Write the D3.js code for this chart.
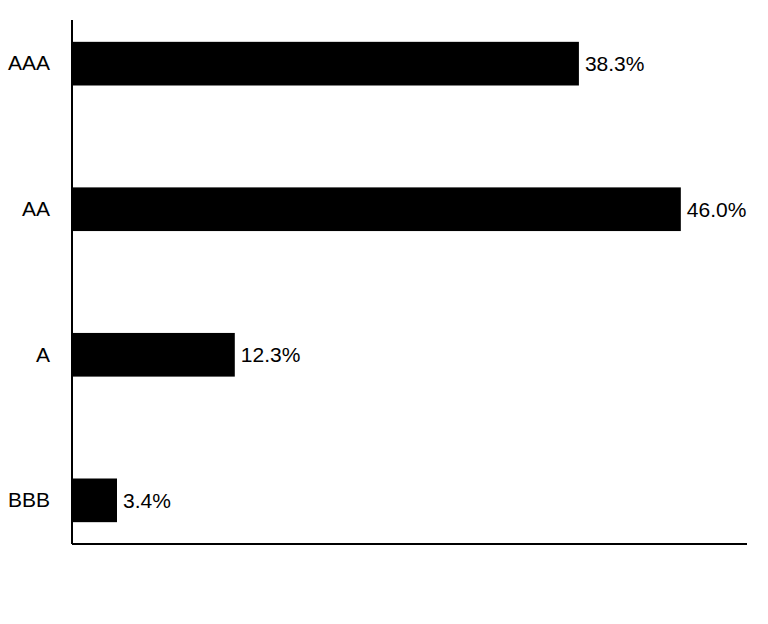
<!DOCTYPE html>
<html>
<head>
<meta charset="utf-8">
<script src="https://cdn.jsdelivr.net/npm/d3@7"></script>
<style>
  body { margin: 0; background: #fff; }
</style>
</head>
<body>
<svg id="chart" width="768" height="624"></svg>
<script>
// ratings and their share of the portfolio
var ratings = ['AAA', 'AA', 'A', 'BBB'];
var shares = [38.3, 46.0, 12.3, 3.4];
var shareLabels = ['38.3%', '46.0%', '12.3%', '3.4%'];

var font = '"Liberation Sans", Arial, sans-serif';
var fontSize = '21px';

var margin = {top: 20, right: 21, bottom: 80, left: 72};
var width = 768 - margin.left - margin.right;
var height = 624 - margin.top - margin.bottom;

var svg = d3.select('#chart');
var g = svg.append('g')
           .attr('transform', 'translate(' + margin.left + ',' + margin.top + ')');

var x = d3.scaleLinear()
          .domain([0, 51])
          .range([0, width]);

var y = d3.scaleBand()
          .domain(ratings)
          .range([0, height])
          .paddingInner(0.7)
          .paddingOuter(0.15);

var rows = ratings.map(function(r, i){
	return {rating: r, value: shares[i], label: shareLabels[i]};
});

g.selectAll('.bar')
 .data(rows)
 .enter().append('rect')
 .attr('class', 'bar')
 .attr('x', 0)
 .attr('y', function(d){ return y(d.rating); })
 .attr('width', function(d){ return x(d.value); })
 .attr('height', y.bandwidth())
 .attr('fill', '#000');

g.selectAll('.val')
 .data(rows)
 .enter().append('text')
 .attr('class', 'val')
 .attr('x', function(d){ return x(d.value) + 6; })
 .attr('y', function(d){ return y(d.rating) + y.bandwidth() / 2; })
 .attr('dy', '.35em')
 .style('font-family', font)
 .style('font-size', fontSize)
 .attr('fill', '#000')
 .text(function(d){ return d.label; });

// y axis: labels only, plain line
var yAxis = g.append('g')
             .call(d3.axisLeft(y).tickSize(0).tickPadding(22));
yAxis.select('.domain').remove();
yAxis.selectAll('text')
     .style('font-family', font)
     .style('font-size', fontSize)
     .attr('fill', '#000');

g.append('line')
 .attr('x1', 0).attr('x2', 0)
 .attr('y1', 0).attr('y2', height)
 .attr('stroke', '#000')
 .attr('stroke-width', 2);

g.append('line')
 .attr('x1', 0).attr('x2', width)
 .attr('y1', height).attr('y2', height)
 .attr('stroke', '#000')
 .attr('stroke-width', 2);
</script>
</body>
</html>
